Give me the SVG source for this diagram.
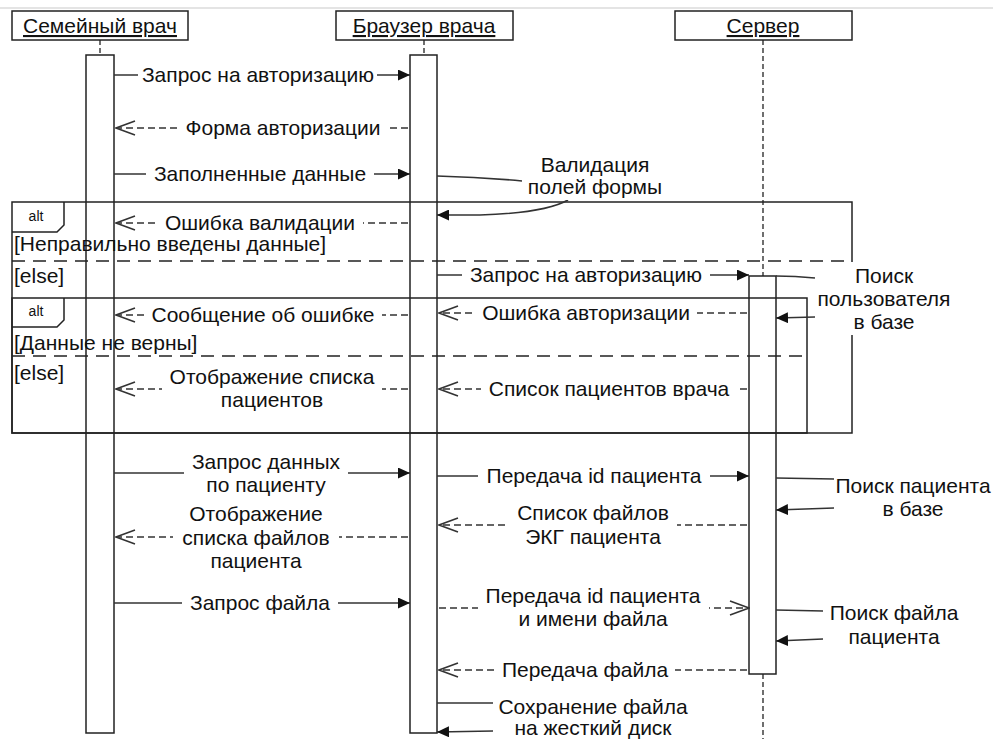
<svg xmlns="http://www.w3.org/2000/svg" width="993" height="739" viewBox="0 0 993 739">
<defs>
<style>
.t{font-family:"Liberation Sans",Arial,sans-serif;font-size:21px;fill:#111;text-anchor:middle}
.g{font-family:"Liberation Sans",Arial,sans-serif;font-size:21px;fill:#111}
.a{font-family:"Liberation Sans",Arial,sans-serif;font-size:14px;fill:#111;text-anchor:middle}
.hdr{fill:#fff;stroke:#222;stroke-width:1.5}
.act{fill:#fff;stroke:#222;stroke-width:1.5}
.life{stroke:#222;stroke-width:1.3;stroke-dasharray:5 3;fill:none}
.frame{fill:none;stroke:#222;stroke-width:1.5}
.fdash{stroke:#222;stroke-width:1.5;stroke-dasharray:13 8;fill:none}
.msg{stroke:#333;stroke-width:1.6;fill:none}
.ret{stroke:#333;stroke-width:1.6;fill:none;stroke-dasharray:7 4}
.bg{fill:#fff}
</style>
<marker id="fill" viewBox="0 0 12 11" refX="12" refY="5.5" markerWidth="12" markerHeight="11" markerUnits="userSpaceOnUse" orient="auto">
<path d="M0,0 L12,5.5 L0,11 z" fill="#111" stroke="none"/>
</marker>
<marker id="open" viewBox="0 0 21 16" refX="20" refY="8" markerWidth="21" markerHeight="16" markerUnits="userSpaceOnUse" orient="auto">
<path d="M1,1 L20,8 L1,15" fill="none" stroke="#333" stroke-width="1.6" stroke-dasharray="none"/>
</marker>
</defs>
<rect x="0" y="0" width="993" height="739" fill="#fff"/>
<line x1="0" y1="8" x2="993" y2="8" stroke="#e4e4e4" stroke-width="2"/>

<g id="lifelines">
<line class="life" x1="100" y1="40" x2="100" y2="55"/>
<line class="life" x1="424" y1="40" x2="424" y2="55"/>
<line class="life" x1="763" y1="40" x2="763" y2="276"/>
<line class="life" x1="763" y1="674" x2="763" y2="739"/>
</g>

<g id="actor-doctor">
<rect class="hdr" x="12" y="11" width="176" height="29"/>
<text class="t" x="100" y="33" text-decoration="underline">Семейный врач</text>
<rect class="act" x="86" y="55" width="28" height="678"/>
</g>
<g id="actor-browser">
<rect class="hdr" x="336" y="11" width="177" height="29"/>
<text class="t" x="424" y="33" text-decoration="underline">Браузер врача</text>
<rect class="act" x="410" y="55" width="27" height="678"/>
</g>
<g id="actor-server">
<rect class="hdr" x="675" y="11" width="177" height="29"/>
<text class="t" x="763" y="33" text-decoration="underline">Сервер</text>
<rect class="act" x="749" y="276" width="27" height="398"/>
</g>

<g id="alt1">
<rect class="frame" x="12" y="202" width="840" height="231"/>
<path class="frame" d="M12,232 L57,232 L64,225 L64,202"/>
<text class="a" x="36" y="221">alt</text>
<line class="fdash" x1="12" y1="261" x2="852" y2="261"/>
<text class="g" x="14" y="251">[Неправильно введены данные]</text>
<text class="g" x="14" y="283">[else]</text>
</g>
<g id="alt2">
<rect class="frame" x="12" y="298" width="795" height="135"/>
<path class="frame" d="M12,327 L57,327 L64,320 L64,298"/>
<text class="a" x="36" y="316">alt</text>
<line class="fdash" x1="12" y1="356" x2="807" y2="356"/>
<text class="g" x="14" y="350">[Данные не верны]</text>
<text class="g" x="14" y="380">[else]</text>
</g>

<g id="connectors">
<line class="msg" x1="114" y1="75" x2="410" y2="75" marker-end="url(#fill)"/>
<line class="ret" x1="408" y1="128" x2="116" y2="128" marker-end="url(#open)"/>
<line class="msg" x1="114" y1="174" x2="410" y2="174" marker-end="url(#fill)"/>
<path class="msg" d="M437,176 Q480,177 522,181"/>
<path class="msg" d="M568,200 Q545,213 480,215 L437,215" marker-end="url(#fill)"/>
<line class="ret" x1="408" y1="223" x2="116" y2="223" marker-end="url(#open)"/>
<line class="msg" x1="437" y1="275" x2="749" y2="275" marker-end="url(#fill)"/>
<path class="msg" d="M776,276 Q795,276 815,278"/>
<path class="msg" d="M815,317 L776,318" marker-end="url(#fill)"/>
<line class="ret" x1="408" y1="315" x2="116" y2="315" marker-end="url(#open)"/>
<line class="ret" x1="747" y1="313" x2="439" y2="313" marker-end="url(#open)"/>
<line class="ret" x1="408" y1="389" x2="116" y2="389" marker-end="url(#open)"/>
<line class="ret" x1="747" y1="389" x2="439" y2="389" marker-end="url(#open)"/>
<line class="msg" x1="114" y1="473" x2="410" y2="473" marker-end="url(#fill)"/>
<line class="msg" x1="437" y1="476" x2="749" y2="476" marker-end="url(#fill)"/>
<path class="msg" d="M776,478 L834,479"/>
<path class="msg" d="M834,508 L776,510" marker-end="url(#fill)"/>
<line class="ret" x1="408" y1="537" x2="116" y2="537" marker-end="url(#open)"/>
<line class="ret" x1="747" y1="525" x2="439" y2="525" marker-end="url(#open)"/>
<line class="msg" x1="114" y1="603" x2="410" y2="603" marker-end="url(#fill)"/>
<line class="ret" x1="439" y1="608" x2="749" y2="608" marker-end="url(#open)"/>
<path class="msg" d="M776,610 L823,611"/>
<path class="msg" d="M823,639 L776,641" marker-end="url(#fill)"/>
<line class="ret" x1="747" y1="670" x2="439" y2="670" marker-end="url(#open)"/>
<path class="msg" d="M437,703 L493,703"/>
<path class="msg" d="M493,731 L437,732" marker-end="url(#fill)"/>
</g>

<g id="labels">
<rect class="bg" x="138" y="63" width="239" height="24"/>
<text class="t" x="258" y="82">Запрос на авторизацию</text>
<rect class="bg" x="178" y="116" width="210" height="24"/>
<text class="t" x="283" y="135">Форма авторизации</text>
<rect class="bg" x="146" y="162" width="228" height="24"/>
<text class="t" x="260" y="181">Заполненные данные</text>
<rect class="bg" x="522" y="152" width="146" height="48"/>
<text class="t" x="595" y="172">Валидация</text>
<text class="t" x="595" y="194">полей формы</text>
<rect class="bg" x="158" y="211" width="205" height="24"/>
<text class="t" x="260" y="230">Ошибка валидации</text>
<rect class="bg" x="462" y="263" width="248" height="24"/>
<text class="t" x="586" y="282">Запрос на авторизацию</text>
<rect class="bg" x="815" y="262" width="140" height="73"/>
<text class="t" x="884" y="283">Поиск</text>
<text class="t" x="884" y="306">пользователя</text>
<text class="t" x="884" y="329">в базе</text>
<rect class="bg" x="144" y="303" width="238" height="24"/>
<text class="t" x="263" y="322">Сообщение об ошибке</text>
<rect class="bg" x="475" y="301" width="222" height="24"/>
<text class="t" x="586" y="320">Ошибка авторизации</text>
<rect class="bg" x="162" y="364" width="220" height="48"/>
<text class="t" x="272" y="384">Отображение списка</text>
<text class="t" x="272" y="407">пациентов</text>
<rect class="bg" x="481" y="377" width="256" height="24"/>
<text class="t" x="609" y="396">Список пациентов врача</text>
<rect class="bg" x="184" y="449" width="164" height="48"/>
<text class="t" x="266" y="469">Запрос данных</text>
<text class="t" x="266" y="492">по пациенту</text>
<rect class="bg" x="478" y="464" width="232" height="24"/>
<text class="t" x="594" y="483">Передача id пациента</text>
<rect class="bg" x="834" y="473" width="159" height="48"/>
<text class="t" x="913" y="493">Поиск пациента</text>
<text class="t" x="913" y="516">в базе</text>
<rect class="bg" x="173" y="501" width="166" height="73"/>
<text class="t" x="256" y="521">Отображение</text>
<text class="t" x="256" y="545">списка файлов</text>
<text class="t" x="256" y="568">пациента</text>
<rect class="bg" x="509" y="500" width="168" height="49"/>
<text class="t" x="593" y="520">Список файлов</text>
<text class="t" x="593" y="544">ЭКГ пациента</text>
<rect class="bg" x="182" y="591" width="156" height="24"/>
<text class="t" x="260" y="610">Запрос файла</text>
<rect class="bg" x="478" y="583" width="231" height="48"/>
<text class="t" x="593" y="603">Передача id пациента</text>
<text class="t" x="593" y="626">и имени файла</text>
<rect class="bg" x="823" y="600" width="142" height="50"/>
<text class="t" x="894" y="620">Поиск файла</text>
<text class="t" x="894" y="644">пациента</text>
<rect class="bg" x="495" y="658" width="180" height="24"/>
<text class="t" x="585" y="677">Передача файла</text>
<rect class="bg" x="493" y="696" width="202" height="43"/>
<text class="t" x="593" y="714">Сохранение файла</text>
<text class="t" x="593" y="735">на жесткий диск</text>
</g>
</svg>
